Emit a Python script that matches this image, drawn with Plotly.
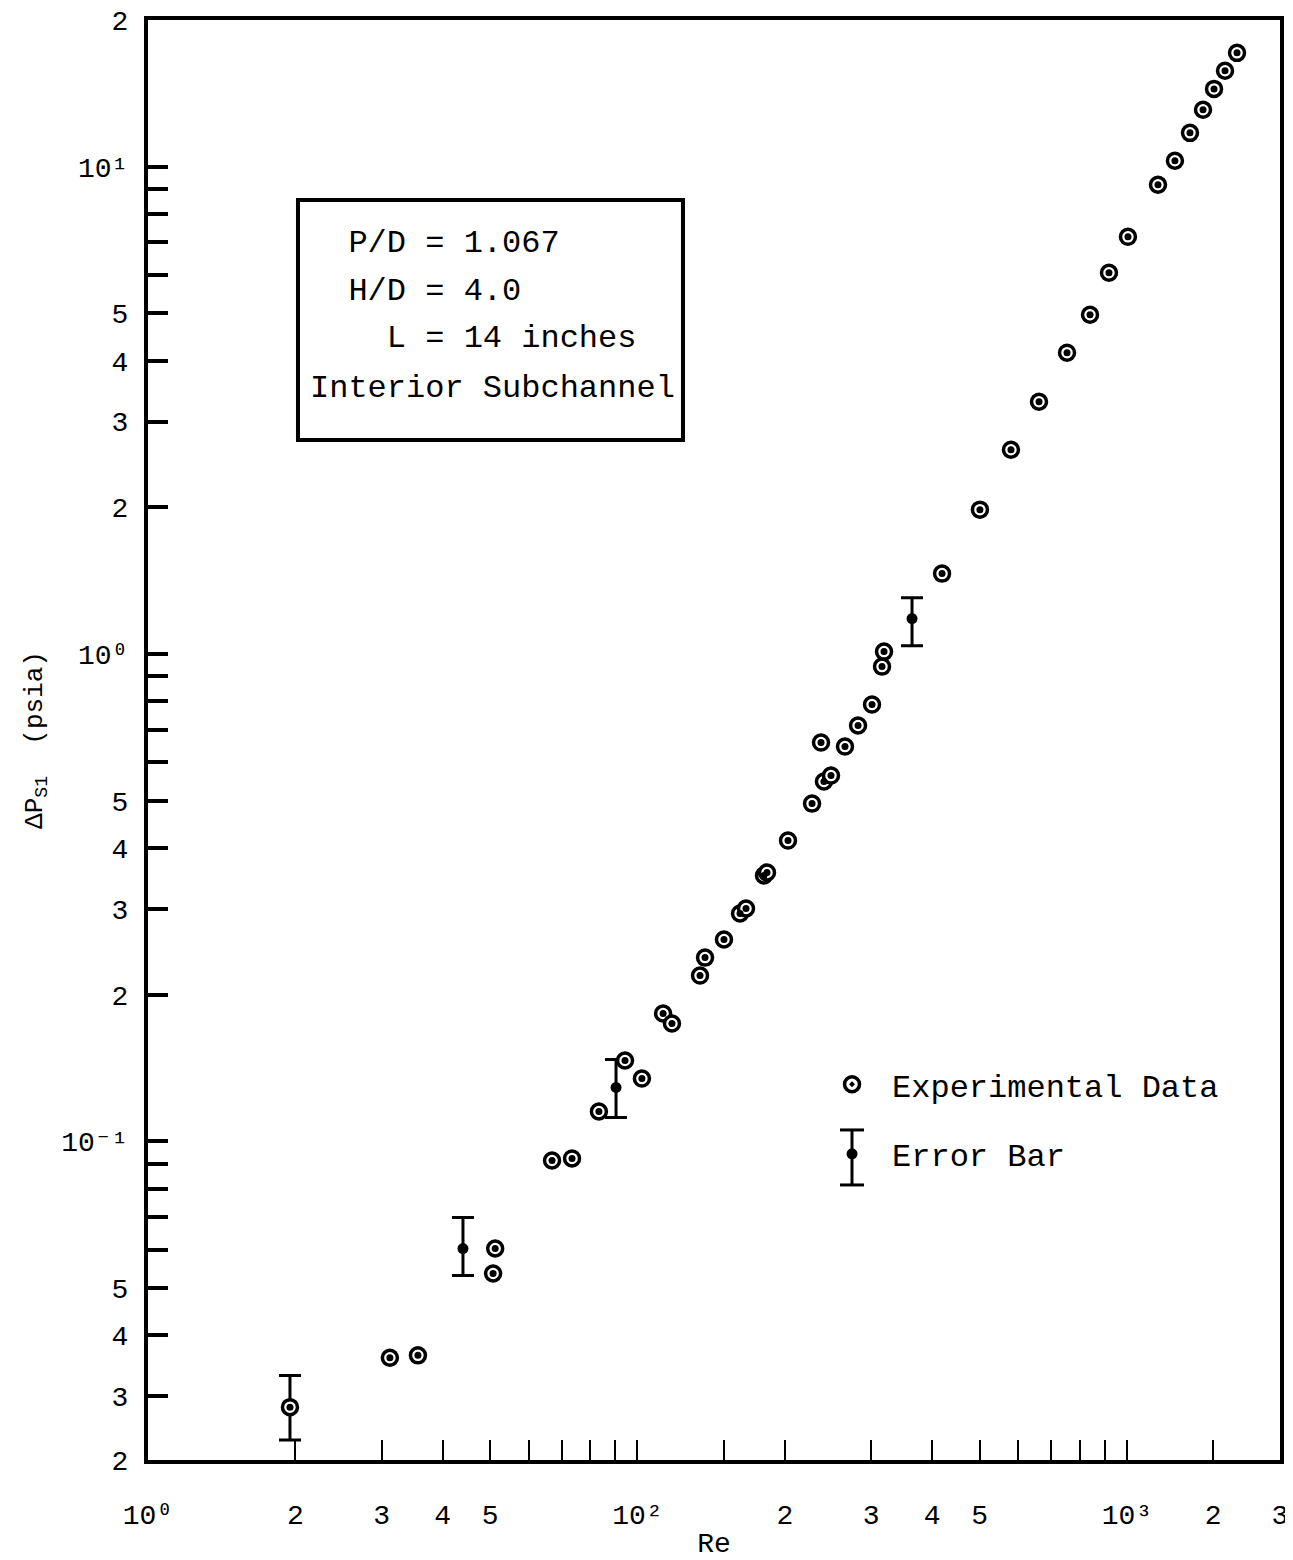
import plotly.graph_objects as go

# ---------------- data ----------------
re_exp = [19.5, 31.2, 35.6, 50.7, 51.2, 66.9, 73.5, 83.4, 94.3, 102.1,
          112.8, 117.6, 134.2, 137.4, 150.2, 162.0, 166.6, 181.3, 183.9, 203.0,
          227.3, 237.1, 240.4, 248.5, 265.4, 282.2, 301.4, 315.9, 318.9, 419.0,
          500.7, 579.4, 661.1, 754.2, 840.4, 918.8, 1004.6, 1157, 1253, 1345,
          1430, 1506, 1586, 1678]
dp_exp = [0.0285, 0.0360, 0.0364, 0.0536, 0.0603, 0.0914, 0.0923, 0.1152, 0.1466, 0.1346,
          0.1831, 0.1746, 0.219, 0.2384, 0.2597, 0.2936, 0.3006, 0.3513, 0.3563, 0.4144,
          0.4935, 0.6585, 0.5477, 0.5634, 0.6461, 0.7136, 0.788, 0.9427, 1.012, 1.463,
          1.979, 2.627, 3.295, 4.155, 4.971, 6.062, 7.183, 9.185, 10.29, 11.74,
          13.09, 14.45, 15.74, 17.13]

re_err = [19.5, 44.0, 90.4, 363.8]
dp_err = [0.0285, 0.0603, 0.1291, 1.183]
dp_err_hi = [0.0331, 0.0698, 0.1473, 1.306]
dp_err_lo = [0.0244, 0.0531, 0.1120, 1.041]

x_tickvals = [10, 20, 30, 40, 50, 100, 200, 300, 400, 500, 1000, 1500, 2054]
x_ticktext = ["10\u2070", "2", "3", "4", "5", "10\u00b2",
              "2", "3", "4", "5", "10\u00b3", "2", "3"]
x_minor = [60, 70, 80, 90, 150, 600, 700, 800, 900]

y_tickvals = [0.0222, 0.03, 0.04, 0.05, 0.1, 0.2, 0.3, 0.4, 0.5, 1, 2, 3, 4, 5, 10, 20]
y_ticktext = ["2", "3", "4", "5", "10\u207b\u00b9", "2", "3", "4", "5",
              "10\u2070", "2", "3", "4", "5", "10\u00b9", "2"]
y_minor = [0.06, 0.07, 0.08, 0.09, 0.6, 0.7, 0.8, 0.9, 6, 7, 8, 9]

box_lines = ["\u00a0\u00a0P/D = 1.067", "\u00a0\u00a0H/D = 4.0",
             "\u00a0\u00a0\u00a0\u00a0L = 14 inches", "Interior Subchannel"]

FONT = "Liberation Mono, DejaVu Sans Mono, monospace"

err_plus = [h - c for h, c in zip(dp_err_hi, dp_err)]
err_minus = [c - l for c, l in zip(dp_err, dp_err_lo)]

fig = go.Figure()

fig.add_trace(go.Scatter(
    x=re_err, y=dp_err, mode="markers", name="Error Bar",
    legendgroup="b", legendrank=2,
    marker=dict(symbol="circle", size=11, color="black"),
    error_y=dict(type="data", symmetric=False, array=err_plus, arrayminus=err_minus,
                 color="black", thickness=3, width=11),
))
fig.add_trace(go.Scatter(
    x=re_exp, y=dp_exp, mode="markers", name="Experimental Data",
    legendgroup="a", legendrank=1,
    marker=dict(symbol="circle-dot", size=15, color="white",
                line=dict(color="black", width=3.5)),
))
fig.add_trace(go.Scatter(
    x=re_exp, y=dp_exp, mode="markers", showlegend=False, hoverinfo="skip",
    marker=dict(symbol="circle", size=7, color="black"),
))

axis_common = dict(
    type="log", showgrid=False, zeroline=False, showline=True, mirror=True,
    linecolor="black", linewidth=4, ticks="inside", tickcolor="black",
    tickfont=dict(family=FONT, size=28, color="black"), tickmode="array",
    automargin=False, ticklabeloverflow="allow",
)
fig.update_xaxes(**axis_common, range=[1, 3.3126], tickvals=x_tickvals, ticktext=x_ticktext,
                 ticklen=20, tickwidth=2, ticklabelstandoff=26,
                 minor=dict(tickmode="array", tickvals=x_minor, ticks="inside",
                            ticklen=20, tickwidth=2, tickcolor="black"),
                 title=dict(text="Re", font=dict(family=FONT, size=28, color="black"),
                            standoff=26))
fig.update_yaxes(**axis_common, range=[-1.6536, 1.3012], tickvals=y_tickvals, ticktext=y_ticktext,
                 ticklen=20, tickwidth=4, ticklabelstandoff=10,
                 minor=dict(tickmode="array", tickvals=y_minor, ticks="inside",
                            ticklen=20, tickwidth=4, tickcolor="black"),
                 title=dict(text="\u0394P<sub>S1</sub>\u00a0\u00a0(psia)",
                            font=dict(family=FONT, size=26, color="black"), standoff=12))

# parameter box
fig.add_shape(type="rect", xref="paper", yref="paper", x0=0.1325, x1=0.4726, y0=0.7083, y1=0.875,
              line=dict(color="black", width=4), fillcolor="rgba(0,0,0,0)")
for txt, yy in zip(box_lines, [0.8451, 0.8118, 0.7785, 0.7444]):
    fig.add_annotation(text=txt, xref="paper", yref="paper", x=0.1413, y=yy,
                       xanchor="left", yanchor="middle", showarrow=False,
                       font=dict(family=FONT, size=32, color="black"))

# error-bar glyph for the legend entry (whiskers and caps around the legend dot)
fig.add_shape(type="line", xref="paper", yref="paper", x0=0.6219, x1=0.6219, y0=0.191, y1=0.2292,
              line=dict(color="black", width=3))
for yy in (0.191, 0.2292):
    fig.add_shape(type="line", xref="paper", yref="paper", x0=0.6113, x1=0.6325, y0=yy, y1=yy,
                  line=dict(color="black", width=3))

# page body has an 8px margin, so the figure is sized to keep the plot box at the reference spot
fig.update_layout(
    width=1285, height=1552,
    margin=dict(l=140, r=13, t=12, b=100),
    paper_bgcolor="white", plot_bgcolor="white",
    showlegend=True,
    legend=dict(x=0.5866, y=0.2799, xanchor="left", yanchor="top",
                font=dict(family=FONT, size=32, color="black"),
                bgcolor="rgba(0,0,0,0)", traceorder="grouped", tracegroupgap=25,
                itemwidth=70),
)

fig.write_html("out.html")
